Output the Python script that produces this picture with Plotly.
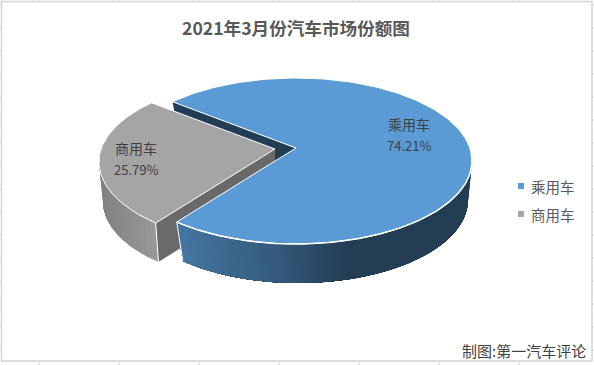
import numpy as np
import plotly.graph_objects as go

W, H = 594, 365
categories = ["乘用车", "商用车"]
shares = [74.21, 25.79]
colors = ["#5B9BD5", "#A5A5A5"]
title = "2021年3月份汽车市场份额图"
credit = "制图:第一汽车评论"

START = 315.5  # clockwise from top, first slice
sweep = [s / sum(shares) * 360 for s in shares]
a0 = START
a1 = (START + sweep[0]) % 360
a2 = a1 + sweep[1]

def pt(e, deg):
    t = np.radians(np.asarray(deg, dtype=float))
    return e["cx"] + e["rx"] * np.sin(t), e["cy"] - e["ry"] * np.cos(t)

blue_top = dict(cx=296, cy=161, rx=176, ry=83)
blue_bot = dict(cx=298, cy=200, rx=170, ry=83)
blue_apex = (296, 148)
blue_apex_b = (298, 187)
gray_top = dict(cx=275, cy=162, rx=176, ry=83)
gray_bot = dict(cx=275, cy=201, rx=172, ry=83)
gray_apex = (275, 149)
gray_apex_b = (276, 188)

fig = go.Figure()

def poly(xs, ys, fill, line=None, lw=0):
    fig.add_trace(go.Scatter(x=list(xs), y=list(ys), mode="lines", fill="toself", fillcolor=fill,
                             line=dict(color=line or fill, width=lw),
                             hoverinfo="skip", showlegend=False))

def stroke(xs, ys, width):
    fig.add_trace(go.Scatter(x=list(xs), y=list(ys), mode="lines", line=dict(color="white", width=width),
                             hoverinfo="skip", showlegend=False))

def lerp(c1, c2, f):
    f = min(max(f, 0), 1)
    return "rgb(%d,%d,%d)" % tuple(round(a + (b - a) * f) for a, b in zip(c1, c2))

def blue_shade(x):
    if x < 280:
        return lerp((68, 118, 160), (52, 90, 125), (x - 180) / 100)
    return lerp((52, 90, 125), (35, 61, 84), (x - 280) / 70)

def wall(top, bot, first, last, shade, steps):
    # painter's order: every step repaints from its own angle to the far end, so no seams show
    for g in np.linspace(first, last, steps)[:-1]:
        arc = np.linspace(g, last, 60)
        xa, ya = pt(top, arc)
        xb, yb = pt(bot, arc[::-1])
        poly(list(xa) + list(xb), list(ya) + list(yb), shade(float(pt(top, g)[0])))

# blue slice inner wall (back)
x1, y1 = pt(blue_top, a0)
x2, y2 = pt(blue_bot, a0)
poly([x1, blue_apex[0], blue_apex_b[0], x2], [y1, blue_apex[1], blue_apex_b[1], y2], "#223D54")

# gray slice: inner wall, outer wall, top
x1, y1 = pt(gray_top, a1)
x2, y2 = pt(gray_bot, a1)
poly([x1, gray_apex[0], gray_apex_b[0], x2], [y1, gray_apex[1], gray_apex_b[1], y2], "#696969")
wall(gray_top, gray_bot, a1, a1 + 60, lambda x: lerp((128, 128, 128), (152, 152, 152), (x - 100) / 55), 24)
xa, ya = pt(gray_top, a1); xb, yb = pt(gray_bot, a1)
stroke([xa, xb], [ya, yb], 1)
arc = np.linspace(a1, a2, 80)
xa, ya = pt(gray_top, arc)
poly([gray_apex[0]] + list(xa) + [gray_apex[0]], [gray_apex[1]] + list(ya) + [gray_apex[1]], colors[1], "white", 1)

# blue outer wall
wall(blue_top, blue_bot, 85, a1, blue_shade, 60)
xa, ya = pt(blue_top, a1); xb, yb = pt(blue_bot, a1)
stroke([xa, xb], [ya, yb], 1)
arc = np.linspace(a0, a0 + sweep[0], 200)
xa, ya = pt(blue_top, arc)
poly([blue_apex[0]] + list(xa) + [blue_apex[0]], [blue_apex[1]] + list(ya) + [blue_apex[1]], colors[0], "white", 1)
xa, ya = pt(blue_top, np.linspace(85, a1, 120))
stroke(xa, ya, 1.5)

FONT = "Noto Sans CJK SC"
def note(x, y, text, size=14, color="#404040", anchor="center"):
    fig.add_annotation(x=x, y=y, xref="x", yref="y", text=text, showarrow=False, xanchor=anchor,
                       yanchor="middle", font=dict(family=FONT, size=size, color=color))

note(409, 124, categories[0]); note(409, 145, f"{shares[0]:.2f}%", 13)
note(136, 148, categories[1]); note(136, 169, f"{shares[1]:.2f}%", 13)
note(588, 350.5, credit, 15, "#404040", "right")

# legend: square swatches and names
legend_y = [186, 214]
fig.add_trace(go.Scatter(x=[521, 521], y=legend_y, mode="markers", hoverinfo="skip", showlegend=False,
                         marker=dict(symbol="square", size=6, color=colors)))
for name, y in zip(categories, legend_y):
    note(528.5, y, name, 14.5, "#595959", "left")

# frame and worksheet grid stubs
GRID = "#D4D4D4"
shapes = [dict(type="rect", x0=1.5, y0=1.5, x1=592, y1=361, line=dict(color=GRID, width=1.5), layer="below")]
for x in range(39, 594, 80):
    shapes.append(dict(type="line", x0=x, x1=x, y0=0, y1=1.5, line=dict(color=GRID, width=1), layer="below"))
    shapes.append(dict(type="line", x0=x, x1=x, y0=361, y1=365, line=dict(color=GRID, width=1), layer="below"))
for y in range(5, 361, 23):
    shapes.append(dict(type="line", x0=0, x1=1.5, y0=y, y1=y, line=dict(color=GRID, width=1), layer="below"))
    shapes.append(dict(type="line", x0=592, x1=594, y0=y, y1=y, line=dict(color=GRID, width=1), layer="below"))

fig.update_layout(
    width=W, height=H, margin=dict(l=0, r=0, t=0, b=0), autosize=False, showlegend=False,
    paper_bgcolor="white", plot_bgcolor="white", shapes=shapes,
    xaxis=dict(range=[0, W], visible=False, fixedrange=True),
    yaxis=dict(range=[H, 0], visible=False, fixedrange=True),
    title=dict(text="<b>%s</b>" % title, x=296 / W, xanchor="center", y=1 - 29 / H, yanchor="middle",
               font=dict(family=FONT, size=17.6, color="#595959")),
    font=dict(family=FONT),
)
fig.write_html("out.html", config=dict(displayModeBar=False),
               post_script="document.body.style.margin='0';document.body.style.overflow='hidden';")
